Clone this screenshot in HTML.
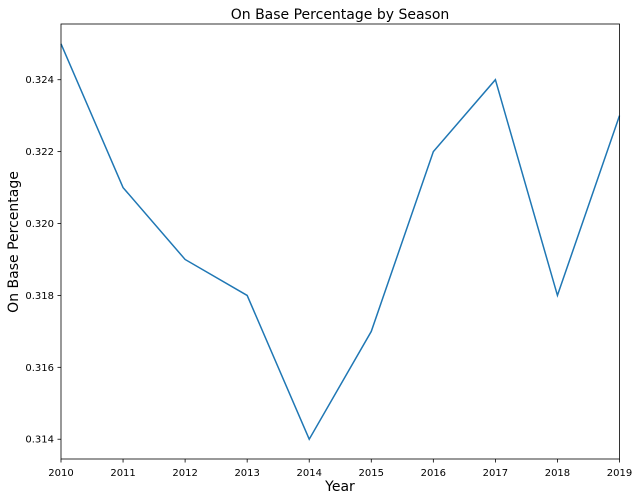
<!DOCTYPE html>
<html><head><meta charset="utf-8"><style>
body{margin:0;background:#fff;}
svg{display:block;font-family:"DejaVu Sans","Liberation Sans",sans-serif;}
</style></head><body>
<svg id="chart" width="638" height="501" viewBox="0 0 638 501" xmlns="http://www.w3.org/2000/svg">
<rect width="638" height="501" fill="#fff"/>
<text x="340" y="19" font-size="14" text-anchor="middle" fill="#000">On Base Percentage by Season</text>
<g id="yt"></g>
<g id="xt"></g>
<polyline id="line" fill="none" stroke="#1f77b4" stroke-width="1.5"/>
<rect x="61" y="24" width="558.5" height="435" fill="none" stroke="#000" stroke-width="0.8"/>
<text x="340" y="491" font-size="14" text-anchor="middle">Year</text>
<text x="0" y="0" font-size="14" text-anchor="middle" transform="translate(18,242) rotate(-90)">On Base Percentage</text>
</svg>
<script>
const years = [2010,2011,2012,2013,2014,2015,2016,2017,2018,2019];
const obp = [0.325,0.321,0.319,0.318,0.314,0.317,0.322,0.324,0.318,0.323];
const yTicks = [0.314,0.316,0.318,0.320,0.322,0.324];
const L=61,R=619.5,T=24,B=459;
const ymin=0.31345,ymax=0.32555;
const x=v=>L+(v-2010)/(2019-2010)*(R-L);
const y=v=>B-(v-ymin)/(ymax-ymin)*(B-T);
const ns="http://www.w3.org/2000/svg";
document.getElementById('line').setAttribute('points',years.map((v,i)=>x(v)+','+y(obp[i])).join(' '));
const yt=document.getElementById('yt');
yTicks.forEach(v=>{
 const l=document.createElementNS(ns,'line');
 
 
 l.setAttribute('x1',L-3.5);l.setAttribute('x2',L);l.setAttribute('y1',y(v));l.setAttribute('y2',y(v));l.setAttribute('stroke','#000');l.setAttribute('stroke-width','0.8');
 yt.appendChild(l);
 const t=document.createElementNS(ns,'text');
 
 
 t.setAttribute('x',L-7);t.setAttribute('y',y(v)+3.5);t.setAttribute('font-size','10');t.setAttribute('text-anchor','end');
 t.textContent=v.toFixed(3);
 yt.appendChild(t);
});
const xt=document.getElementById('xt');
years.forEach(v=>{
 const l=document.createElementNS(ns,'line');
 
 
 l.setAttribute('x1',x(v));l.setAttribute('x2',x(v));l.setAttribute('y1',B);l.setAttribute('y2',B+3.5);l.setAttribute('stroke','#000');l.setAttribute('stroke-width','0.8');
 xt.appendChild(l);
 const t=document.createElementNS(ns,'text');
 
 
 t.setAttribute('x',x(v));t.setAttribute('y',B+17);t.setAttribute('font-size','10');t.setAttribute('text-anchor','middle');
 t.textContent=v;
 xt.appendChild(t);
});
</script>
</body></html>
